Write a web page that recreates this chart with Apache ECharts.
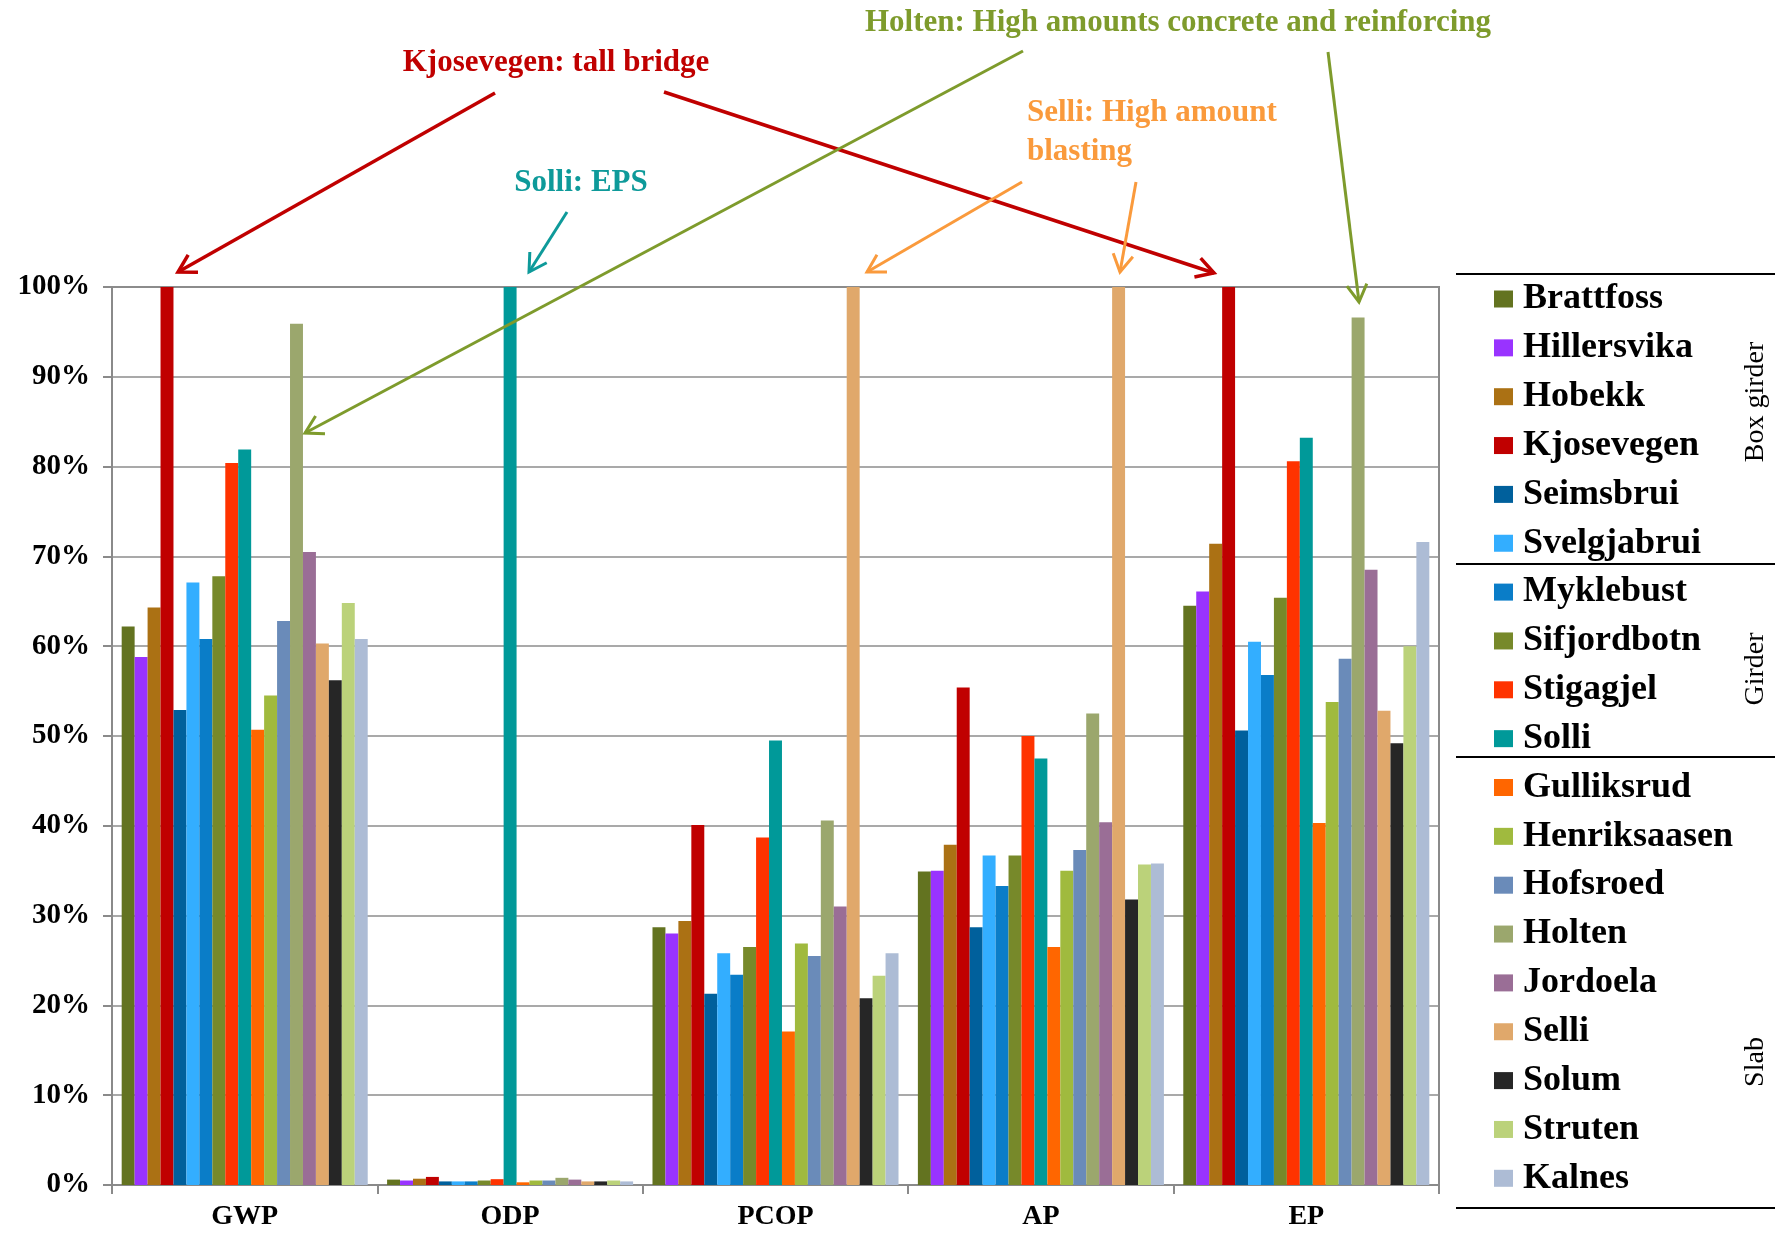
<!DOCTYPE html>
<html>
<head>
<meta charset="utf-8">
<script src="https://cdn.jsdelivr.net/npm/echarts@6/dist/echarts.min.js"></script>
<style>
  html, body { margin: 0; padding: 0; background: #fff; }
  #chart { width: 1775px; height: 1234px; }
</style>
</head>
<body>
<div id="chart"></div>
<script>
var categories = ['GWP', 'ODP', 'PCOP', 'AP', 'EP'];
var bridges = ['Brattfoss', 'Hillersvika', 'Hobekk', 'Kjosevegen', 'Seimsbrui', 'Svelgjabrui',
  'Myklebust', 'Sifjordbotn', 'Stigagjel', 'Solli',
  'Gulliksrud', 'Henriksaasen', 'Hofsroed', 'Holten', 'Jordoela', 'Selli', 'Solum', 'Struten', 'Kalnes'];
var colors = ['#637320', '#9933FF', '#AB7114', '#C00000', '#00609C', '#33AEFF',
  '#0A7DC8', '#77892A', '#FF3300', '#009999',
  '#FF6600', '#A0BA3E', '#6A8BB9', '#9BA76D', '#9A6E96', '#E0A86B', '#262626', '#BBD27A', '#ADBCD5'];

// values in % per impact category, same order as bridges
var gwp  = [62.2, 58.8, 64.3, 100, 52.9, 67.1, 60.8, 67.8, 80.4, 81.9, 50.7, 54.5, 62.8, 95.9, 70.5, 60.3, 56.2, 64.8, 60.8];
var odp  = [0.6, 0.5, 0.7, 0.9, 0.4, 0.4, 0.4, 0.5, 0.65, 100, 0.3, 0.5, 0.5, 0.8, 0.6, 0.4, 0.4, 0.5, 0.4];
var pcop = [28.7, 28.0, 29.4, 40.1, 21.3, 25.8, 23.4, 26.5, 38.7, 49.5, 17.1, 26.9, 25.5, 40.6, 31.0, 100, 20.8, 23.3, 25.8];
var ap   = [34.9, 35.0, 37.9, 55.4, 28.7, 36.7, 33.3, 36.7, 50.0, 47.5, 26.5, 35.0, 37.3, 52.5, 40.4, 100, 31.8, 35.7, 35.8];
var ep   = [64.5, 66.1, 71.4, 100, 50.6, 60.5, 56.8, 65.4, 80.6, 83.2, 40.3, 53.8, 58.6, 96.6, 68.5, 52.8, 49.2, 60.0, 71.6];

var yTicks = [0, 10, 20, 30, 40, 50, 60, 70, 80, 90, 100];

var serif = '"Liberation Serif", "DejaVu Serif", serif';
var red = '#C00000', teal = '#0E9A9A', green = '#7E9B2C', orange = '#FA9A3C';

var series = bridges.map(function (name, i) {
  return {
    name: name,
    type: 'bar',
    barGap: '0%',
    barCategoryGap: '7.3%',
    itemStyle: { color: colors[i] },
    data: [gwp[i], odp[i], pcop[i], ap[i], ep[i]]
  };
});

// arrow = straight line plus an open V head
function arrow(x1, y1, x2, y2, color, w) {
  var dx = x2 - x1, dy = y2 - y1;
  var len = Math.sqrt(dx * dx + dy * dy);
  var ux = dx / len, uy = dy / len;
  var L = 20, a = Math.PI / 6;
  var p1 = [x2 - L * (ux * Math.cos(a) - uy * Math.sin(a)), y2 - L * (uy * Math.cos(a) + ux * Math.sin(a))];
  var p2 = [x2 - L * (ux * Math.cos(a) + uy * Math.sin(a)), y2 - L * (uy * Math.cos(a) - ux * Math.sin(a))];
  return [
    { type: 'line', shape: { x1: x1, y1: y1, x2: x2, y2: y2 }, style: { stroke: color, lineWidth: w }, z: 100 },
    { type: 'polyline', shape: { points: [p1, [x2, y2], p2] }, style: { stroke: color, lineWidth: w, fill: null }, z: 100 }
  ];
}

function label(text, x, y, color, align) {
  return {
    type: 'text', x: x, y: y, z: 100,
    style: { text: text, fill: color, font: 'bold 31px ' + serif, textAlign: align || 'center', textVerticalAlign: 'middle' }
  };
}

function hline(y) {
  return { type: 'line', shape: { x1: 1456, y1: y, x2: 1775, y2: y }, style: { stroke: '#000', lineWidth: 2 } };
}

function groupLabel(text, y) {
  return {
    type: 'text', x: 1756, y: y, rotation: Math.PI / 2,
    style: { text: text, fill: '#000', font: '28px ' + serif, textAlign: 'center', textVerticalAlign: 'middle' }
  };
}

var graphics = []
  .concat(arrow(495, 93, 178, 272, red, 3.5))
  .concat(arrow(664, 92, 1214, 273, red, 3.5))
  .concat(arrow(567, 212, 529, 272, teal, 3))
  .concat(arrow(1023, 51, 305, 433, green, 3))
  .concat(arrow(1328, 52, 1359, 302, green, 3))
  .concat(arrow(1022, 182, 867, 272, orange, 3))
  .concat(arrow(1136, 182, 1120, 272, orange, 3))
  .concat([
    label('Kjosevegen: tall bridge', 556, 63, red),
    label('Solli: EPS', 581, 183, teal),
    label('Holten: High amounts concrete and reinforcing', 1178, 23, green),
    label('Selli: High amount', 1027, 113, orange, 'left'),
    label('blasting', 1027, 152, orange, 'left'),
    hline(274), hline(564), hline(757), hline(1208),
    groupLabel('Box girder', 402),
    groupLabel('Girder', 669),
    groupLabel('Slab', 1062)
  ]);

var myChart = echarts.init(document.getElementById('chart'));
myChart.setOption({
  animation: false,
  textStyle: { fontFamily: serif },
  grid: {
    left: 112, right: 336, top: 287, bottom: 49,
    show: true, borderColor: '#8a8a8a', borderWidth: 2
  },
  legend: {
    data: bridges,
    orient: 'vertical',
    left: 1494,
    top: 281,
    padding: 0,
    icon: 'rect',
    itemWidth: 19,
    itemHeight: 17,
    itemGap: 12.85,
    selectedMode: false,
    textStyle: {
      fontFamily: serif, fontWeight: 'bold', fontSize: 36, color: '#000',
      padding: [0, 0, 0, 5]
    }
  },
  xAxis: {
    type: 'category',
    data: categories,
    axisLine: { lineStyle: { color: '#8a8a8a', width: 2 } },
    axisTick: { show: true, length: 9, lineStyle: { color: '#8a8a8a', width: 2 } },
    axisLabel: { fontFamily: serif, fontWeight: 'bold', fontSize: 28, color: '#000', margin: 18 }
  },
  yAxis: {
    type: 'value',
    min: yTicks[0],
    max: yTicks[yTicks.length - 1],
    interval: 10,
    axisLine: { show: true, lineStyle: { color: '#8a8a8a', width: 2 } },
    axisTick: { show: true, length: 9, lineStyle: { color: '#8a8a8a', width: 2 } },
    splitLine: { lineStyle: { color: '#8c8c8c', width: 1.6 } },
    axisLabel: { formatter: '{value}%', fontFamily: serif, fontWeight: 'bold', fontSize: 29, color: '#000', margin: 22 }
  },
  graphic: graphics,
  series: series
});
</script>
</body>
</html>
